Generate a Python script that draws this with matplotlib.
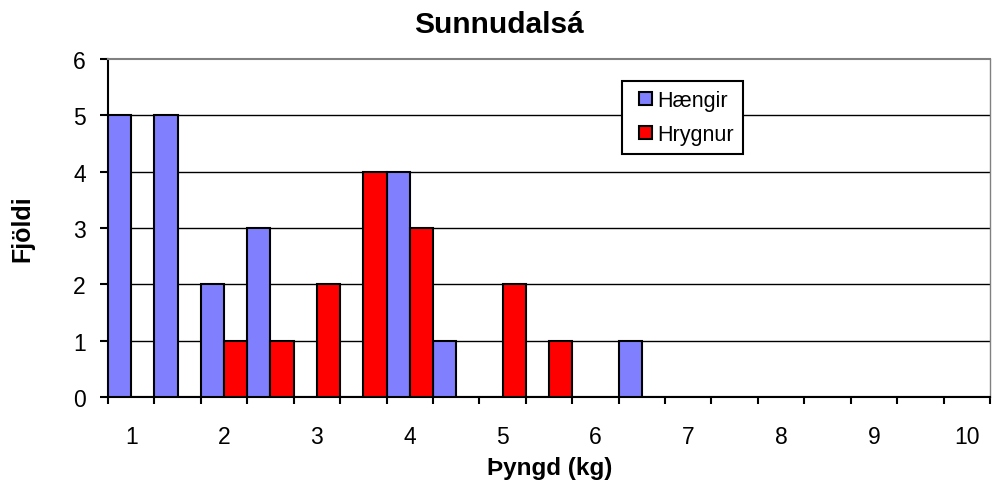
import numpy as np
import matplotlib
matplotlib.use("Agg")
import matplotlib.pyplot as plt
from matplotlib.patches import Rectangle
from matplotlib.legend_handler import HandlerPatch

# ---- data ----
weights = ['1', '1.5', '2', '2.5', '3', '3.5', '4', '4.5', '5', '5.5',
           '6', '6.5', '7', '7.5', '8', '8.5', '9', '9.5', '10']
haengir = [5, 5, 2, 3, 0, 0, 4, 1, 0, 0, 0, 1, 0, 0, 0, 0, 0, 0, 0]
hrygnur = [0, 0, 1, 1, 2, 4, 3, 0, 2, 1, 0, 0, 0, 0, 0, 0, 0, 0, 0]
tick_labels = ['1', '2', '3', '4', '5', '6', '7', '8', '9', '10']

BLUE = '#8080FF'
RED = '#FF0000'

plt.rcParams['font.family'] = ['Liberation Sans', 'DejaVu Sans']

fig = plt.figure(figsize=(9.93, 4.89), dpi=100)
ax = fig.add_axes([108 / 993, 91 / 489, 882 / 993, 338 / 489])

x = np.arange(len(weights))
ax.bar(x - 0.25, haengir, width=0.5, color=BLUE, edgecolor='black', lw=1.5, zorder=3)
ax.bar(x + 0.25, hrygnur, width=0.5, color=RED, edgecolor='black', lw=1.5, zorder=3)

ax.set_xlim(-0.5, len(weights) - 0.5)
ax.set_ylim(0, 6)

# gridlines
for yv in range(1, 6):
    ax.axhline(yv, color='black', lw=1, zorder=1)

ax.spines['top'].set_color('#808080')
ax.spines['right'].set_color('#808080')
ax.spines['top'].set_linewidth(1.5)
ax.spines['right'].set_linewidth(1)
ax.spines['left'].set_linewidth(1.5)
ax.spines['bottom'].set_linewidth(1.5)

ax.set_yticks(range(0, 7))
ax.tick_params(axis='y', direction='out', length=6, width=1.5, labelsize=16.5, pad=10)

ax.set_xticks(x[::2])
ax.set_xticklabels(tick_labels)
ax.set_xticks(np.arange(-0.5, len(weights), 1), minor=True)
ax.tick_params(axis='x', which='major', length=0, labelsize=16.5, pad=20)
ax.tick_params(axis='x', which='minor', direction='out', length=5, width=1.5)

fig.text(499 / 993, 1 - 33 / 489, 'Sunnudalsá', fontsize=21.5, fontweight='bold',
         ha='center', va='baseline')
fig.text(550 / 993, 1 - 475 / 489, 'Þyngd (kg)', fontsize=17.5, fontweight='bold',
         ha='center', va='baseline')
fig.text(22 / 993, 1 - 229 / 489, 'Fjöldi', fontsize=18, fontweight='bold',
         ha='center', va='center', rotation=90)


def square_patch(legend, orig_handle, xdescent, ydescent, width, height, fontsize):
    s = 0.6 * fontsize
    return Rectangle((width - s - xdescent, -ydescent + (height - s) / 2), s, s)


handles = [Rectangle((0, 0), 1, 1, facecolor=BLUE, edgecolor='black', lw=1.5),
           Rectangle((0, 0), 1, 1, facecolor=RED, edgecolor='black', lw=1.5)]
leg = ax.legend(handles, ['Hængir', 'Hrygnur'], loc='upper left',
                bbox_to_anchor=(622 / 993, 1 - 82 / 489), bbox_transform=fig.transFigure,
                fontsize=15.5, fancybox=False, framealpha=1, edgecolor='black',
                handler_map={Rectangle: HandlerPatch(patch_func=square_patch)},
                handlelength=1.0, handleheight=0.7, handletextpad=0.25,
                borderpad=0.4, labelspacing=0.62, borderaxespad=0)
leg.get_frame().set_linewidth(1.5)
leg.set_zorder(5)

fig.savefig('out.png', dpi=100)
